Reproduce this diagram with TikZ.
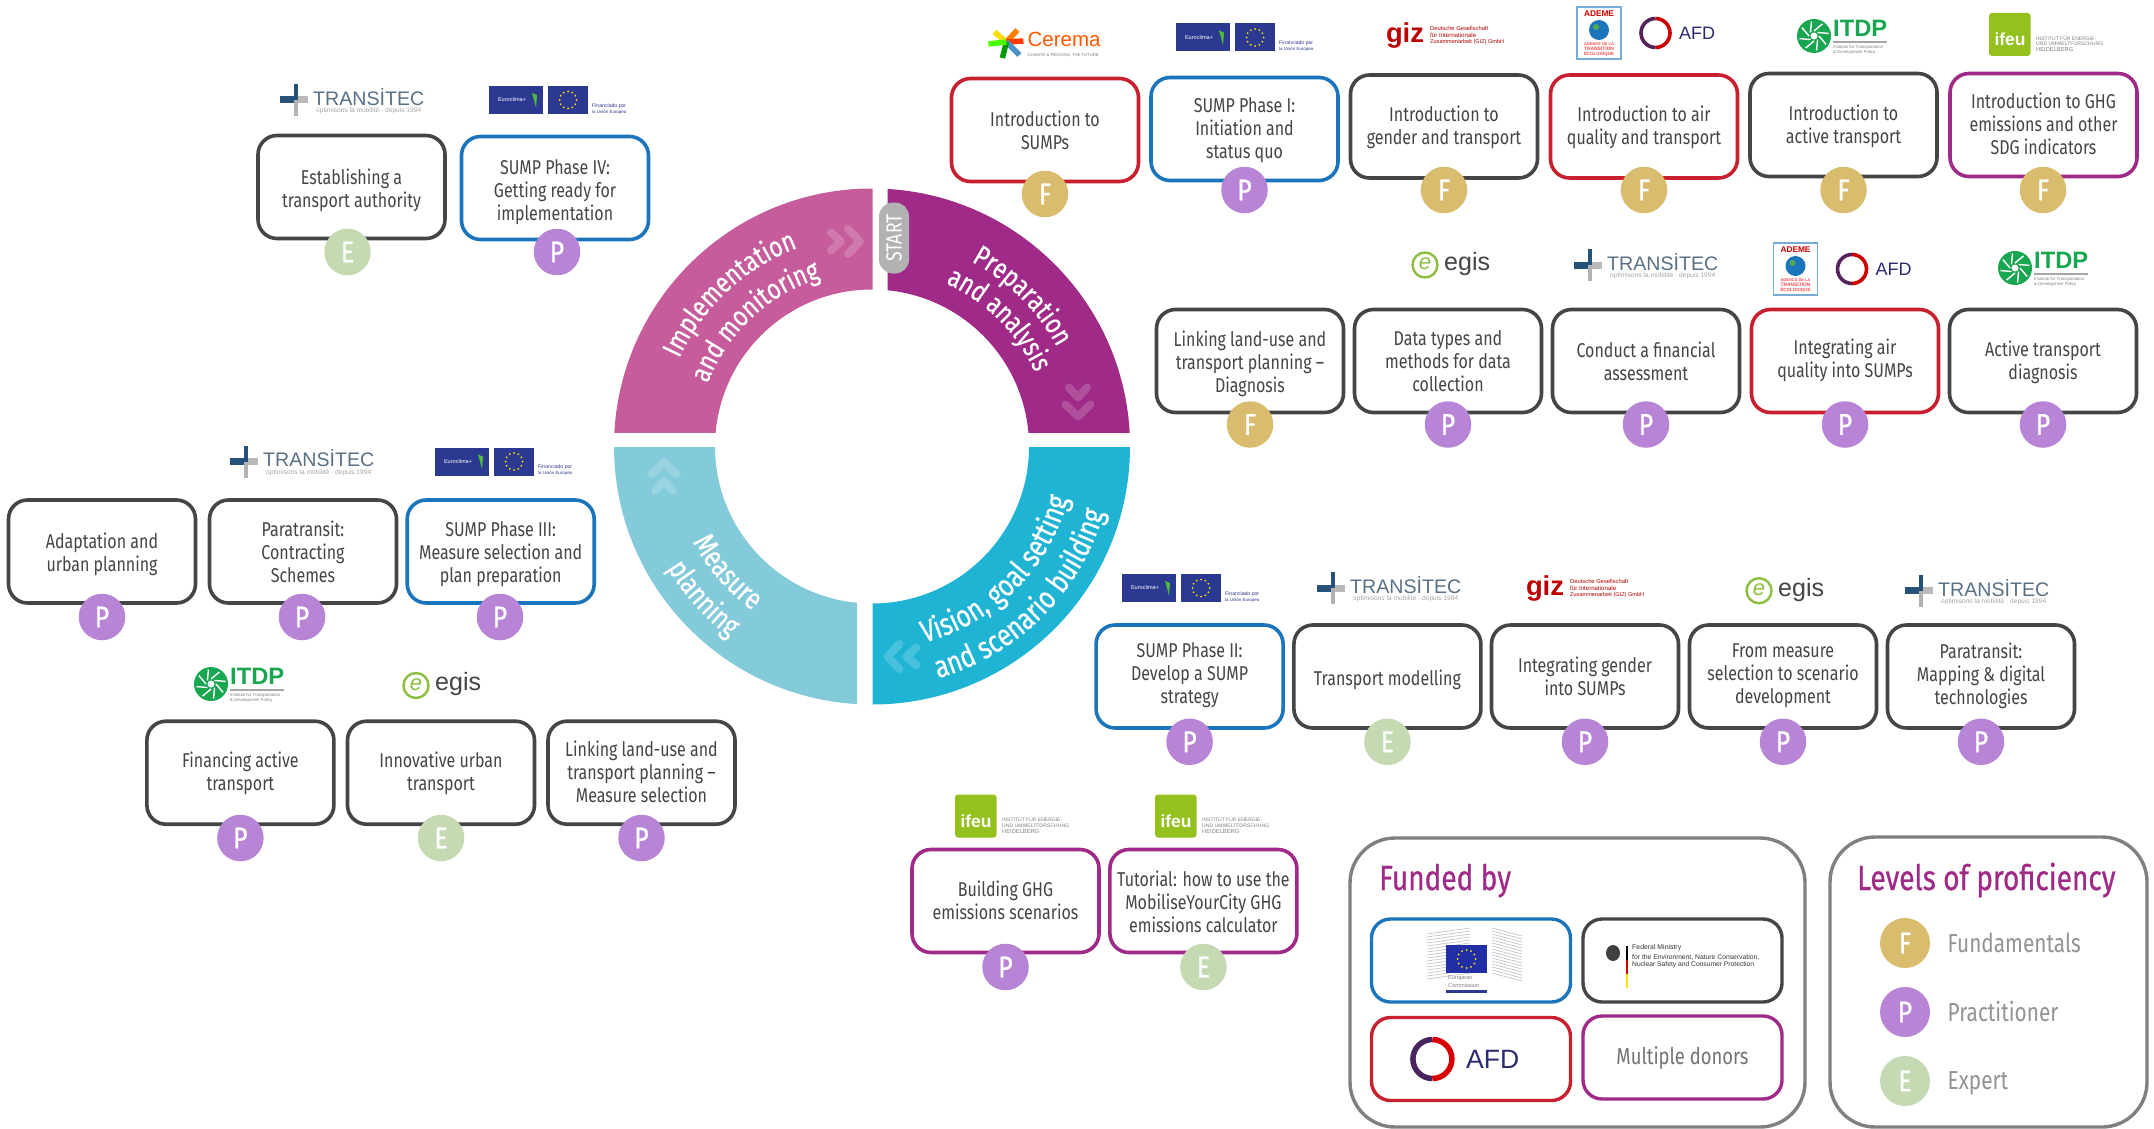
\documentclass[tikz,border=0pt]{standalone}
\usepackage{fontspec}
\usepackage{graphicx}
\usetikzlibrary{decorations.text}
\setmainfont[FakeStretch=0.8]{Fira Sans}
\newfontfamily\ringfont[FakeStretch=0.8,FakeBold=0.5]{Fira Sans}
\newfontfamily\badgefont[FakeStretch=0.82,FakeBold=0.8]{Fira Sans}
\newfontfamily\headfont[FakeStretch=0.8,FakeBold=0.6]{Fira Sans}
\newfontfamily\logofont{Liberation Sans}
\definecolor{cred}{HTML}{C8202F}
\definecolor{cblue}{HTML}{1B75BC}
\definecolor{cdark}{HTML}{454545}
\definecolor{cpurple}{HTML}{9F2A87}
\definecolor{cpink}{HTML}{C65C9B}
\definecolor{ccyan}{HTML}{20B4D4}
\definecolor{clight}{HTML}{83CADB}
\definecolor{cframe}{HTML}{808080}
\definecolor{badgeF}{HTML}{D9BC6E}
\definecolor{badgeP}{HTML}{B784D6}
\definecolor{badgeE}{HTML}{C5DAB3}
\definecolor{euroblue}{HTML}{2B3990}
\definecolor{itdpgreen}{HTML}{19A651}
\definecolor{ifeugreen}{HTML}{95C11F}
\definecolor{egisgreen}{HTML}{8CBF3F}
\definecolor{afdnavy}{HTML}{2A2A70}
\definecolor{transnavy}{HTML}{26527A}
\definecolor{transtext}{HTML}{5A7084}
\newcommand{\fitw}[2]{\resizebox{#1pt}{!}{#2}}
\tikzset{
  coursebox/.style={draw=#1,line width=3.6pt,rounded corners=19pt,fill=white,
    minimum width=187pt,minimum height=103pt,inner sep=0pt},
  coursetext/.style={inner sep=0pt,align=center,text=cdark,font=\fontsize{20}{23}\selectfont},
  badge/.style={circle,fill=badge#1,minimum size=46.5pt,inner sep=0pt,text=white,
    font=\badgefont\fontsize{30}{30}\selectfont},
  bigframe/.style={draw=cframe,line width=3.4pt,rounded corners=45pt,fill=white,inner sep=0pt},
  funderbox/.style={draw=#1,line width=3.4pt,rounded corners=19pt,fill=white,inner sep=0pt,
    minimum width=199pt,minimum height=83pt,align=center},
  legendtext/.style={anchor=west,text=gray!85,inner sep=0pt,font=\fontsize{26}{26}\selectfont},
  headtext/.style={text=cpurple,inner sep=0pt,anchor=base west,font=\headfont\fontsize{35}{35}\selectfont},
  tiny/.style={inner sep=0pt,anchor=west},
  pics/transitec/.style={code={
    \draw[line width=7pt,draw=gray!55] (-58,0)--(-44,0);
    \draw[line width=7pt,draw=transnavy] (-72,0)--(-58,0);
    \draw[line width=4pt,draw=gray!60] (-56,0)--(-56,16);
    \draw[line width=4pt,draw=transnavy] (-56,-16)--(-56,0);
    \node[tiny,text=transtext] at (-39,-3) {\fitw{111}{\logofont TRANSİTEC}};
    \node[tiny,text=gray!70] at (-36,11) {\fitw{105}{\logofont optimisons la mobilité · depuis 1994}};
  }},
  pics/euro/.style={code={
    \fill[euroblue] (-69,-14) rectangle (-15,14);
    \fill[euroblue] (-10,-14) rectangle (30,14);
    \node[text=white,inner sep=0pt] at (-46,0) {\fitw{28}{\logofont Euroclima+}};
    \fill[yellow!30!green] (-26,-7)--(-21,-5)--(-22,8)--(-24,0)--cycle;
    \foreach \a in {0,30,...,330} {\fill[yellow!90!orange] (10,0)++(\a:8.5) circle (1);}
    \node[tiny,text=euroblue] at (34,6) {\fitw{34}{\logofont Financiado por}};
    \node[tiny,text=euroblue] at (34,12) {\fitw{34}{\logofont la Unión Europea}};
  }},
  pics/giz/.style={code={
    \node[inner sep=0pt,text=red!75!black] at (-40,-1) {\fitw{38}{\logofont\bfseries giz}};
    \node[tiny,text=red!70!black] at (-15,-8) {\fitw{58}{\logofont Deutsche Gesellschaft}};
    \node[tiny,text=red!70!black] at (-15,-1) {\fitw{46}{\logofont für Internationale}};
    \node[tiny,text=red!70!black] at (-15,6) {\fitw{74}{\logofont Zusammenarbeit (GIZ) GmbH}};
  }},
  pics/ademe/.style={code={
    \draw[draw=cblue!60,line width=1.2pt,fill=white] (-22,-26) rectangle (22,26);
    \node[inner sep=0pt,text=red!80!black] at (0,-19) {\fitw{30}{\logofont\bfseries ADEME}};
    \fill[cblue] (0,-3) circle (10);
    \fill[green!35!gray] (-3,-6) circle (3);
    \node[inner sep=0pt,text=red!70] at (0,11) {\fitw{30}{\logofont\bfseries AGENCE DE LA}};
    \node[inner sep=0pt,text=red!70] at (0,16) {\fitw{30}{\logofont\bfseries TRANSITION}};
    \node[inner sep=0pt,text=red!70] at (0,21) {\fitw{30}{\logofont\bfseries ÉCOLOGIQUE}};
    \draw[line width=3.6pt,draw=afdnavy!80!red] (56.5,-14.5) arc[start angle=90,end angle=270,radius=14.5pt];
    \draw[line width=3.6pt,draw=red!80!black] (56.5,14.5) arc[start angle=-90,end angle=90,radius=14.5pt];
    \node[tiny,text=afdnavy] at (80,0) {\fitw{36}{\logofont AFD}};
  }},
  pics/itdp/.style={code={
    \fill[itdpgreen] (-28,0) circle (17);
    \foreach \a in {0,45,...,315} {\draw[white,line width=1.4pt] (-28,0)++(\a:5)--++(\a+50:11);}
    \fill[white] (-28,0) circle (3.5);
    \node[tiny,text=itdpgreen] at (-9,-8) {\fitw{54}{\logofont\bfseries ITDP}};
    \draw[gray!70,line width=1.2pt] (-9,6)--(45,6);
    \node[tiny,text=gray] at (-9,11) {\fitw{50}{\logofont Institute for Transportation}};
    \node[tiny,text=gray] at (-9,16.5) {\fitw{42}{\logofont \& Development Policy}};
  }},
  pics/ifeu/.style={code={
    \fill[ifeugreen,rounded corners=3pt] (-57,-21.5) rectangle (-15.5,21.5);
    \node[inner sep=0pt,text=white] at (-36,5) {\fitw{31}{\logofont\bfseries ifeu}};
    \node[tiny,text=gray] at (-10,3.5) {\fitw{60}{\logofont INSTITUT FÜR ENERGIE-}};
    \node[tiny,text=gray] at (-10,9.5) {\fitw{67}{\logofont UND UMWELTFORSCHUNG}};
    \node[tiny,text=gray] at (-10,15.5) {\fitw{37}{\logofont HEIDELBERG}};
  }},
  pics/egis/.style={code={
    \draw[egisgreen,line width=2.4pt] (-25,0) circle (12.5);
    \node[inner sep=0pt,text=egisgreen] at (-25,-1) {\fontsize{22}{22}\selectfont\logofont\itshape e};
    \node[tiny,text=cdark] at (-6,-1) {\fitw{46}{\logofont egis}};
  }},
  pics/cerema/.style={code={
    \draw[line width=5.5pt,yellow!80!orange] (-38,0)--(-50,-10);
    \draw[line width=5.5pt,orange] (-38,0)--(-27,-12);
    \draw[line width=5.5pt,red!55!orange] (-38,0)--(-21,-1);
    \draw[line width=5.5pt,cblue!80] (-38,0)--(-25,13);
    \draw[line width=5.5pt,green!60!black] (-38,0)--(-42,16);
    \draw[line width=5.5pt,green!70!yellow] (-38,0)--(-56,2);
    \node[tiny,text=orange!70!red] at (-17,-3) {\fitw{73}{\logofont Cerema}};
    \node[tiny,text=gray] at (-17,13) {\fitw{71}{\logofont CLIMATE \& REGIONS, THE FUTURE}};
  }},
}
% [text shift], id, centre x, centre y, colour, text, badge letter, badge x, badge y
\newcommand{\course}[9][0]{%
  \node[coursebox=#5] (box#2) at (#3,#4) {};
  \node[coursetext] (text#2) at (#3,#4+#1) {#6};
  \node[badge=#7] (badge#2) at (#8,#9) {#7};
}
\newcommand{\ringtext}[5][28.5]{%
  \path[decorate,decoration={text along path,text align=center,
    text={|\ringfont\fontsize{#1}{29}\selectfont\color{white}|#5}}]
    (#3:#2pt) arc[start angle=#3,end angle=#4,radius=#2pt];
}
\newcommand{\sector}[5]{%
  \begin{scope}
    \clip (#2,#3) rectangle (#4,#5);
    \fill[#1,even odd rule] (0,0) circle (258) (0,0) circle (157);
  \end{scope}
}
\newcommand{\chev}[4]{%
  \begin{scope}[shift={(#1,#2)},rotate=#3]
    \draw[#4,line width=8pt,line cap=round,line join=round] (-12,12.5)--(0,0)--(-12,-12.5);
    \draw[#4,line width=8pt,line cap=round,line join=round] (-29,9)--(-19,0)--(-29,-9);
  \end{scope}
}
\begin{document}
\begin{tikzpicture}[x=1pt,y=-1pt]
\useasboundingbox (0,0) rectangle (2154,1129);
\fill[white] (0,0) rectangle (2154,1129);

% ---- ring (y upwards inside this scope)
\begin{scope}[shift={(872,446.5)},y=1pt]
  \sector{cpink}{-270}{14.5}{0.5}{270}
  \sector{cpurple}{15.5}{14.5}{270}{270}
  \sector{ccyan}{0.5}{-0.5}{270}{-270}
  \sector{clight}{-15}{-0.5}{-270}{-270}
  \chev{-12}{205}{0}{cpink!82!white}
  \chev{206}{30}{-90}{cpurple!82!white}
  \chev{15.5}{-210}{180}{ccyan!82!white}
  \chev{-208}{-15.5}{90}{clight!82!white}
  \ringtext{212}{193}{73}{Implementation}
  \ringtext{176}{193}{73}{and monitoring}
  \ringtext{210}{105}{-15}{Preparation}
  \ringtext{179}{105}{-15}{and analysis}
  \ringtext[31]{203}{-105}{15}{Vision, goal setting}
  \ringtext[31]{241}{-105}{15}{and scenario building}
  \ringtext[30]{203}{161}{281}{Measure}
  \ringtext[29.5]{238}{162}{282}{planning}
\end{scope}
\node[fill=gray!60,rounded corners=14pt,minimum width=71pt,minimum height=30pt,inner sep=0pt,
  rotate=90] (startpill) at (894,238) {};
\node[text=white,rotate=90,inner sep=0pt,font=\fontsize{22}{22}\selectfont] (starttext) at (894,238) {START};

% ---- courses
\course{a}{1045}{130}{cred}{Introduction to\\SUMPs}{F}{1045}{194}
\course[1]{b}{1244.5}{129}{cblue}{SUMP Phase I:\\Initiation and\\status quo}{P}{1244.5}{190}
\course[1]{c}{1444}{126.5}{cdark}{Introduction to\\gender and transport}{F}{1444}{190}
\course[1]{d}{1644}{126.5}{cred}{Introduction to air\\quality and transport}{F}{1644}{190}
\course[1]{e}{1843.5}{125}{cdark}{Introduction to\\active transport}{F}{1843.5}{190}
\course[-1]{f}{2043.5}{125}{cpurple}{Introduction to GHG\\emissions and other\\SDG indicators}{F}{2043}{190}

\course[3]{g}{1250}{361}{cdark}{Linking land-use and\\transport planning --\\Diagnosis}{F}{1250}{424.5}
\course{h}{1448}{361}{cdark}{Data types and\\methods for data\\collection}{P}{1448}{424.5}
\course{i}{1646}{361}{cdark}{Conduct a financial\\assessment}{P}{1646}{424.5}
\course[-1]{j}{1845}{361}{cred}{Integrating air\\quality into SUMPs}{P}{1845}{424.5}
\course[1]{k}{2043}{361}{cdark}{Active transport\\diagnosis}{P}{2043}{424.5}

\course[3]{l}{351.5}{187}{cdark}{Establishing a\\transport authority}{E}{347.5}{252}
\course[4]{m}{555}{188}{cblue}{SUMP Phase IV:\\Getting ready for\\implementation}{P}{557}{252}

\course[3]{n}{102}{551.5}{cdark}{Adaptation and\\urban planning}{P}{102}{617}
\course{o}{303}{551.5}{cdark}{Paratransit:\\Contracting\\Schemes}{P}{302}{617}
\course[3]{p}{500.7}{551.5}{cblue}{SUMP Phase III:\\Measure selection and\\plan preparation}{P}{500}{617}
\course[1]{q}{240.4}{772.7}{cdark}{Financing active\\transport}{P}{240.4}{838}
\course[1]{r}{441}{772.7}{cdark}{Innovative urban\\transport}{E}{441}{838}
\course[-1]{s}{641.5}{772.7}{cdark}{Linking land-use and\\transport planning --\\Measure selection}{P}{641.5}{838}

\course[-1]{t}{1189.6}{676.5}{cblue}{SUMP Phase II:\\Develop a SUMP\\strategy}{P}{1189.6}{741.8}
\course[3]{u}{1387.4}{676.5}{cdark}{Transport modelling}{E}{1387.4}{741.8}
\course{v}{1585}{676.5}{cdark}{Integrating gender\\into SUMPs}{P}{1585}{741.8}
\course[-1]{w}{1783}{676.5}{cdark}{From measure\\selection to scenario\\development}{P}{1783}{741.8}
\course[-1]{x}{1981}{676.5}{cdark}{Paratransit:\\Mapping \& digital\\technologies}{P}{1981}{741.8}

\course[-1]{y}{1005.5}{901}{cpurple}{Building GHG\\emissions scenarios}{P}{1005.5}{967}
\course[1]{z}{1203.4}{901}{cpurple}{Tutorial: how to use the\\MobiliseYourCity GHG\\emissions calculator}{E}{1203.4}{967}

% ---- logos
\pic at (1044.4,42) {cerema};
\pic at (1245,37.5) {euro};
\pic at (1445,36) {giz};
\pic at (1599,33) {ademe};
\pic at (1842,36) {itdp};
\pic at (2046,34.5) {ifeu};
\pic at (1450,265) {egis};
\pic at (1646,265) {transitec};
\pic at (1795.5,269) {ademe};
\pic at (2043,268) {itdp};
\pic at (352,100) {transitec};
\pic at (558,100) {euro};
\pic at (302,461.5) {transitec};
\pic at (504,461.5) {euro};
\pic at (239,684) {itdp};
\pic at (441,685.5) {egis};
\pic at (1191,588) {euro};
\pic at (1389,588) {transitec};
\pic at (1585,589) {giz};
\pic at (1784,590.7) {egis};
\pic at (1977,590.7) {transitec};
\pic at (1012,816) {ifeu};
\pic at (1212,816) {ifeu};

% ---- funded by
\draw[bigframe] (1350,838) rectangle (1805,1127);
\node[headtext] (fundedhead) at (1379,890) {Funded by};
\node[funderbox=cblue] (fundeu) at (1471,960.5) {};
\node[funderbox=cdark] (fundbmu) at (1682.5,960.5) {};
\node[funderbox=cred] (fundafd) at (1471,1059) {};
\node[funderbox=cpurple,text=gray!90!black,font=\fontsize{23}{23}\selectfont] (fundmulti) at (1682.5,1057.5) {Multiple donors};
% European Commission logo
\foreach \yy in {928,931,...,973} {
  \draw[gray!45,line width=0.7pt] (1427,\yy+6)--(1470,\yy);
  \draw[gray!45,line width=0.7pt] (1492,\yy)--(1522,\yy+8);
}
\fill[euroblue!80!blue] (1446,945) rectangle (1487,973);
\foreach \a in {0,30,...,330} {\fill[yellow] (1466.5,959)++(\a:9) circle (1);}
\node[tiny,text=gray] at (1448,978.5) {\fitw{24}{\logofont European}};
\node[tiny,text=gray] at (1448,985) {\fitw{31}{\logofont Commission}};
\fill[euroblue] (1446,990) rectangle (1487,993);
% BMU logo
\fill[black!75] (1613,953) ellipse (7 and 8);
\fill[black] (1625.6,946) rectangle (1627.6,960);
\fill[red!85!black] (1625.6,960) rectangle (1627.6,974);
\fill[yellow!85!orange] (1625.6,974) rectangle (1627.6,988);
\node[tiny,text=black!80] at (1632,948) {\fitw{49}{\logofont Federal Ministry}};
\node[tiny,text=black!80] at (1632,957) {\fitw{127}{\logofont for the Environment, Nature Conservation,}};
\node[tiny,text=black!80] at (1632,965) {\fitw{122}{\logofont Nuclear Safety and Consumer Protection}};
% AFD logo
\draw[line width=5.5pt,draw=afdnavy!85!red] (1432.4,1039.5) arc[start angle=90,end angle=270,radius=19.5pt];
\draw[line width=5.5pt,draw=red!85!black] (1432.4,1078.5) arc[start angle=-90,end angle=90,radius=19.5pt];
\node[tiny,text=afdnavy] (afdtext) at (1466,1059) {\fitw{53}{\logofont AFD}};

% ---- levels of proficiency
\draw[bigframe] (1830,837) rectangle (2147,1127);
\node[headtext] (levelshead) at (1857,890) {Levels of proficiency};
\node[badge=F,minimum size=50pt] (legF) at (1905,943) {F};
\node[badge=P,minimum size=50pt] (legP) at (1905,1012) {P};
\node[badge=E,minimum size=50pt] (legE) at (1905,1081) {E};
\node[legendtext] (legFt) at (1947.5,943) {Fundamentals};
\node[legendtext] (legPt) at (1947.5,1012) {Practitioner};
\node[legendtext] (legEt) at (1947.5,1083) {Expert};
\end{tikzpicture}
\end{document}
